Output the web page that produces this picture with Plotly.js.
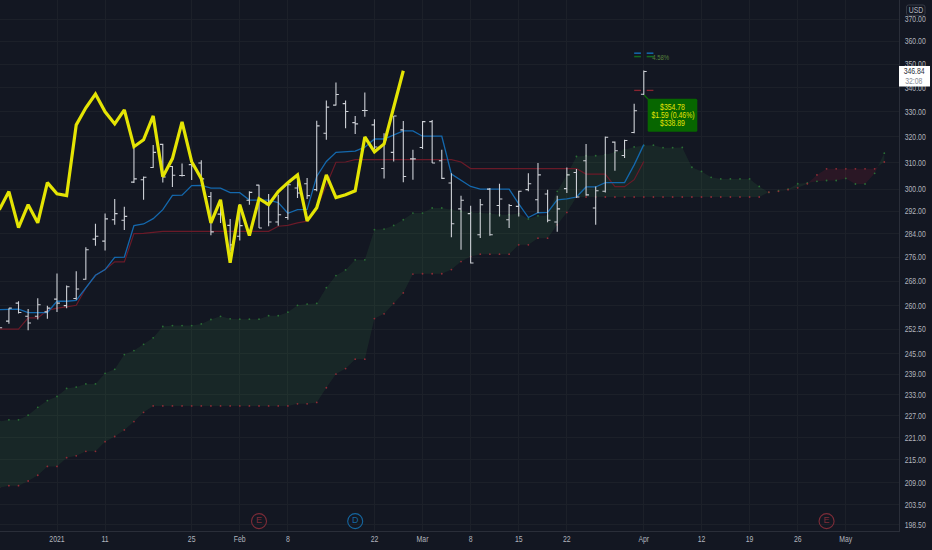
<!DOCTYPE html>
<html>
<head>
<meta charset="utf-8">
<script src="https://cdn.plot.ly/plotly-3.0.1.min.js"></script>
<style>html,body{margin:0;padding:0;background:#131722;overflow:hidden}#chart{width:932px;height:550px}</style>
</head>
<body>
<div id="chart"></div>
<script>
// --- price bars, first bar sits six sessions before the 2021 tick
const barStart = -6;
const opens = [252.4,255.1,260.8,256.6,256.6,258,262.1,260,262.3,268.6,282.2,281.5,289,288.8,302.7,303.6,308.2,317.1,308.6,305.2,309.3,309.9,297.4,291,287,283.2,296,301.6,294.4,288.2,289.8,300.5,302.1,299.9,321.5,332.8,333.4,325.7,330.6,324.8,307.8,314,322.8,311.5,315.9,326.1,310.8,302.4,292.9,291.2,283.7,300.1,294.1,289,293.8,299.9,296.2,298.3,288.2,300.3,306.3,310.8,293.2,299.3,318,312.8,321.8,337.3];
const highs = [254.9,259.2,261.4,258.9,262.4,260,270.5,266.5,271.2,279.4,287.6,291.2,296.5,293.7,316.1,304.8,316.9,317.3,308.8,309.7,310.2,311,299,295.6,289.3,294.7,299.3,301.7,298.3,298,302,304.2,304.2,326.5,334.7,342.2,334.7,328.4,338,327.1,321.5,328.4,326.4,315,326.4,326.8,315,306,297.7,294,296.5,300.5,302.1,294.7,299.5,306,309.9,299.9,297.7,308.2,307.6,317.2,301.1,320.2,318.2,318.9,333.4,347.3];
const lows = [251.8,254.3,257.5,252.2,255.6,255.8,258,259.2,261.9,268.4,279.9,278.3,287.2,285.4,302.4,296.2,308,302.6,300.9,304.8,303.5,303.3,283.5,287.8,277.9,281.7,294.4,286.1,286.7,286.9,289,296.8,296.5,299.3,318.9,332.6,323.5,321.2,328.1,315.3,304.1,310.5,302.7,303.6,315.3,309.9,303.9,282.8,278.5,273.8,282.6,283.4,290.2,286.1,290.2,299.3,291.4,288.1,284.8,298.7,296.8,297.7,287.2,298.9,307,311.8,321.5,337];
const closes = [253,259.2,257.8,254.5,260.3,259.2,260.8,266.1,265.4,278.5,283.2,289.3,291.2,290.2,303.9,304.5,314,304.6,305.3,305.2,308.8,303.9,284.7,290.8,280.2,286.9,298.9,286.1,288.2,290.8,301.7,298.7,297.7,324.4,332,337.2,330.2,325.2,330.6,316.1,318.9,328.4,304.8,311.5,326.1,309.9,304.1,287.6,296,274,294.4,283.7,296.5,294.1,299.3,302.1,305.4,288.8,292.9,305.4,297.2,298,299.5,319.9,314.6,318.6,330.5,346.84];

// --- conversion line (blue) and base line (dark red)
const conversion = [258.7,258.9,258.9,257.8,257.8,257.8,261.4,261.4,261.7,265.7,269.9,271.8,275.9,276,286.9,287.5,289.4,292.6,297.8,297.9,301.4,301.5,300.5,300.5,298.8,298.8,296.1,296.1,296.1,295.2,291.3,292.6,292.7,304.8,310.5,314,314.2,314.5,316,319.2,319.2,320.8,322.4,322.4,320.3,320.3,320.3,305.7,303.3,301.1,300.1,300.1,300.1,300.1,294.7,289.8,291.5,291.6,296.2,296.5,297.2,300.9,300.9,302.5,302.5,302.5,309.2,317];
const base = [252.6,252.6,252.6,256.1,256.1,258.5,259.2,259.6,260.1,265.7,269.9,271.8,274.4,274.4,284.1,284.2,284.5,284.9,284.9,284.9,284.9,284.9,284.9,284.9,284.9,284.9,284.9,284.9,284.9,286.7,287,287.9,288.5,293.2,301.7,310.2,310.3,311.2,311.2,311.2,311.2,311.2,311.2,311.2,311.2,311.2,311.2,311.2,310.3,307.8,307.8,307.8,307.8,307.8,307.8,307.8,307.8,307.8,307.8,307.8,307.8,305.7,305.7,305.7,301,301,303.6,310.5];

// --- cloud spans, one value per session out to the projected end
const spanA = [225.4,225.9,225.9,227.2,229.4,231.3,232.5,234.8,235.2,236.1,236.1,239.2,240.4,244.8,246,247.9,249.9,253.4,253.7,253.7,253.7,254.2,255.6,256.6,255.8,255.7,255.7,255.7,256.8,256.8,257.9,260.1,260.5,260.7,265.8,269.8,271.7,275.1,275.1,285.5,285.7,287,289,291.4,291.4,293.2,293.2,292.6,292,291.6,291.4,291.2,290.8,290.8,291.2,289.3,290.4,290.4,299.3,305.4,312.4,312.7,312.7,313.1,314,315,316.1,316.7,316.8,315.8,315.8,315.9,308.3,306.7,304.5,303.9,303.9,303.9,303.9,301.1,298.9,299.5,300.1,302.1,302.4,303,303.3,303.3,304.1,302,302,306,313.7];
const spanB = [207.8,208.3,208.3,209.5,211,213.3,213.3,215.6,216.1,217.3,217.3,219.9,221.3,223.1,225.4,228,229.8,229.8,229.8,229.8,229.8,229.8,229.8,229.8,229.8,229.8,229.8,229.8,229.8,229.8,229.8,230.4,230.4,230.8,235,239,240.6,243.4,243.4,255.9,257.4,260.7,264.1,270.3,270.4,270.4,270.4,271.8,274.5,276.2,277,277,277,277,280.2,280.2,282.5,282.5,287.2,291.6,297.2,297.2,297.2,297.2,297.2,297.2,297.2,297.2,297.2,297.2,297.2,297.2,297.2,297.2,297.2,297.2,297.2,297.2,297.2,297.2,299,299.3,299.9,300.6,302.1,305.4,307.7,307.7,307.7,307.7,307.7,307.7,310.3];

// --- thick yellow line
const yellow = [292.6,299.2,286.2,294.4,287.9,302.5,298.4,297.7,324.8,331.7,337.4,330.1,325.2,330.9,316.2,318.9,328.4,304.7,311.6,326,310.4,304,287.9,296.2,274.1,294.4,283.4,296.6,294.4,299.2,302.5,305.4,288.6,293.3,305.4,297,298,299.5,320,314.2,317.3,331.7,347.2];

// --- ticks
const xTickVals = [0,5,14,19,24,33,38,43,48,53,61,67,72,77,82];
const xTickText = ['2021','11','25','Feb','8','22','Mar','8','15','22','Apr','12','19','26','May'];
const yTickVals = [370,360,350,340,330,320,310,300,292,284,276,268,260,252.5,245,239,233,227,221,215,209,203.5,198.5];
const yTickText = ['370.00','360.00','350.00','340.00','330.00','320.00','310.00','300.00','292.00','284.00','276.00','268.00','260.00','252.50','245.00','239.00','233.00','227.00','221.00','215.00','209.00','203.50','198.50'];

// --- trade levels and event badges
const targetPrice = 354.78, midPrice = 353.3, stopPrice = 338.89, lastPrice = 346.84;
const levelBars = [60,60.7,null,61.3,62];
const eventBars = [21,31,80];
const eventText = ['E','D','E'];
const eventColors = ['#7d2c38','#15669f','#7d2c38'];
const eventPrice = 199.4;
const calloutLines = ['$354.78','$1.59 (0.46%)','$338.89'];
const countdown = '32:08';

const xRange = [-5.925,87.53];
const yRange = [2.29446,2.5784];
const FONT = '"Liberation Sans",sans-serif';
const TXT = 8.6;
const PLOT_W = 899, PLOT_H = 531;
const px = x => x/PLOT_W, py = y => 1-y/PLOT_H;

const idx = (arr,s) => arr.map((_,k) => s+k);
const flat = (bars,v) => bars.map(b => b===null ? null : v);

function cloud(a,b,start){
  const out = {up:{x:[],y:[]},down:{x:[],y:[]}};
  let top=[],bot=[],sign=Math.sign(a[0]-b[0])||1;
  const close=()=>{
    const t=out[sign>0?'up':'down'];
    const pts=top.concat(bot.slice().reverse());
    pts.forEach(p=>{t.x.push(p[0]);t.y.push(p[1]);});
    t.x.push(pts[0][0],null);t.y.push(pts[0][1],null);
  };
  for(let k=0;k<a.length;k++){
    const s=Math.sign(a[k]-b[k])||sign;
    if(s!==sign){
      const d0=a[k-1]-b[k-1],d1=a[k]-b[k],f=d0/(d0-d1);
      const cx=start+k-1+f,cy=a[k-1]+(a[k]-a[k-1])*f;
      top.push([cx,cy]);close();
      top=[[cx,cy]];bot=[];sign=s;
    }
    top.push([start+k,a[k]]);bot.push([start+k,b[k]]);
  }
  close();
  return out;
}
const fillArea = cloud(spanA,spanB,barStart);

function roundBox(x0,y0,x1,y1,r){
  const X=px,Y=py;
  return `M ${X(x0+r)} ${Y(y0)} L ${X(x1-r)} ${Y(y0)} Q ${X(x1)} ${Y(y0)} ${X(x1)} ${Y(y0+r)} L ${X(x1)} ${Y(y1-r)} Q ${X(x1)} ${Y(y1)} ${X(x1-r)} ${Y(y1)} L ${X(x0+r)} ${Y(y1)} Q ${X(x0)} ${Y(y1)} ${X(x0)} ${Y(y1-r)} L ${X(x0)} ${Y(y0+r)} Q ${X(x0)} ${Y(y0)} ${X(x0+r)} ${Y(y0)} Z`;
}

const traces = [
 {type:'scatter',mode:'none',x:fillArea.up.x,y:fillArea.up.y,fill:'toself',fillcolor:'rgba(76,175,80,0.11)',hoverinfo:'skip',connectgaps:false},
 {type:'scatter',mode:'none',x:fillArea.down.x,y:fillArea.down.y,fill:'toself',fillcolor:'rgba(233,30,60,0.11)',hoverinfo:'skip',connectgaps:false},
 {type:'scatter',mode:'markers',x:idx(spanA,barStart),y:spanA,marker:{size:1.8,color:'#2a6e35'},hoverinfo:'skip'},
 {type:'scatter',mode:'markers',x:idx(spanB,barStart),y:spanB,marker:{size:1.8,color:'#8f2c36'},hoverinfo:'skip'},
 {type:'scatter',mode:'lines',x:idx(base,barStart),y:base,line:{color:'#6a1a28',width:1.2},hoverinfo:'skip'},
 {type:'scatter',mode:'lines',x:idx(conversion,barStart),y:conversion,line:{color:'#1468ad',width:1.3},hoverinfo:'skip'},
 {type:'scatter',mode:'markers+text',x:eventBars,y:eventBars.map(()=>eventPrice),text:eventText,textposition:'middle center',
  textfont:{family:FONT,size:9,color:eventColors},
  marker:{symbol:'circle',size:15,color:'rgba(0,0,0,0)',line:{width:1.1,color:eventColors}},hoverinfo:'skip'},
 {type:'ohlc',xaxis:'x2',yaxis:'y2',x:idx(opens,barStart),open:opens,high:highs,low:lows,close:closes,tickwidth:0.3,
  increasing:{line:{color:'#cdd0d6',width:1.1}},decreasing:{line:{color:'#cdd0d6',width:1.1}},hoverinfo:'skip'},
 {type:'scatter',mode:'lines',xaxis:'x2',yaxis:'y2',x:idx(yellow,barStart),y:yellow,line:{color:'#e4e404',width:3.2},hoverinfo:'skip'},
 {type:'scatter',mode:'lines',xaxis:'x2',yaxis:'y2',x:levelBars,y:flat(levelBars,targetPrice),line:{color:'#1468ad',width:1.5},hoverinfo:'skip'},
 {type:'scatter',mode:'lines',xaxis:'x2',yaxis:'y2',x:levelBars,y:flat(levelBars,midPrice),line:{color:'#136b1e',width:1.5},hoverinfo:'skip'},
 {type:'scatter',mode:'lines',xaxis:'x2',yaxis:'y2',x:levelBars,y:flat(levelBars,stopPrice),line:{color:'#8a2430',width:1.3},hoverinfo:'skip'}
];

const label = (x,y,text,size,color) => ({xref:'paper',yref:'paper',x:px(x),y:py(y),xanchor:'center',yanchor:'middle',text,showarrow:false,font:{family:FONT,size,color}});

const layout = {
 width:932,height:550,
 margin:{l:0,r:33,t:0,b:19,pad:0},
 paper_bgcolor:'#131722',plot_bgcolor:'#131722',
 showlegend:false,
 font:{family:FONT,size:TXT,color:'#b2b5be'},
 xaxis:{type:'linear',range:xRange,tickmode:'array',tickvals:xTickVals,ticktext:xTickText,tickangle:0,showgrid:true,gridcolor:'#1c2029',gridwidth:1,
  zeroline:false,showline:true,linecolor:'#2a2e39',linewidth:1,ticks:'',tickfont:{family:FONT,size:TXT,color:'#b2b5be'},rangeslider:{visible:false},fixedrange:true},
 yaxis:{type:'log',side:'right',range:yRange,tickmode:'array',tickvals:yTickVals,ticktext:yTickText,showgrid:true,gridcolor:'#1c2029',gridwidth:1,
  zeroline:false,showline:true,linecolor:'#2a2e39',linewidth:1,ticks:'',ticklabelstandoff:3,tickfont:{family:FONT,size:TXT,color:'#b2b5be'},fixedrange:true},
 xaxis2:{overlaying:'x',type:'linear',range:xRange,visible:false,rangeslider:{visible:false},fixedrange:true},
 yaxis2:{overlaying:'y',type:'log',side:'right',range:yRange,visible:false,fixedrange:true},
 shapes:[
  {type:'path',xref:'paper',yref:'paper',path:roundBox(906.5,5,925,15.3,2),fillcolor:'#131722',line:{color:'#363a45',width:1}},
  {type:'rect',xref:'paper',yref:'paper',x0:px(899),x1:px(930),y0:py(66),y1:py(86.5),fillcolor:'#ffffff',line:{width:0}},
  {type:'line',xref:'paper',yref:'paper',x0:px(644),y0:py(95),x1:px(649),y1:py(100),line:{color:'#0c6a06',width:1.3}},
  {type:'path',xref:'paper',yref:'paper',path:roundBox(647.7,98.7,697.3,131.7,1.5),fillcolor:'#076600',line:{width:0}}
 ],
 annotations:[
  label(915.8,10.2,'USD',TXT,'#b2b5be'),
  label(914.5,71.5,lastPrice.toFixed(2),TXT,'#2a2e39'),
  label(914.5,81,countdown,TXT,'#8a8d95'),
  label(672.5,106.7,calloutLines[0],TXT,'#e4e404'),
  label(672.5,114.7,calloutLines[1],TXT,'#e4e404'),
  label(672.5,122.7,calloutLines[2],TXT,'#e4e404'),
  label(661,57.7,'4.58%',7.5,'#55823d')
 ]
};
Plotly.newPlot('chart',traces,layout,{displayModeBar:false,staticPlot:true}).then(()=>{
  // the original type is a narrow face; narrow the installed one to the same set width
  document.querySelectorAll('.xtick text, .ytick text, .annotation-text').forEach(t=>{
    t.setAttribute('textLength',(t.getComputedTextLength()*0.8).toFixed(2));
    t.setAttribute('lengthAdjust','spacingAndGlyphs');
  });
});
</script>
</body>
</html>
